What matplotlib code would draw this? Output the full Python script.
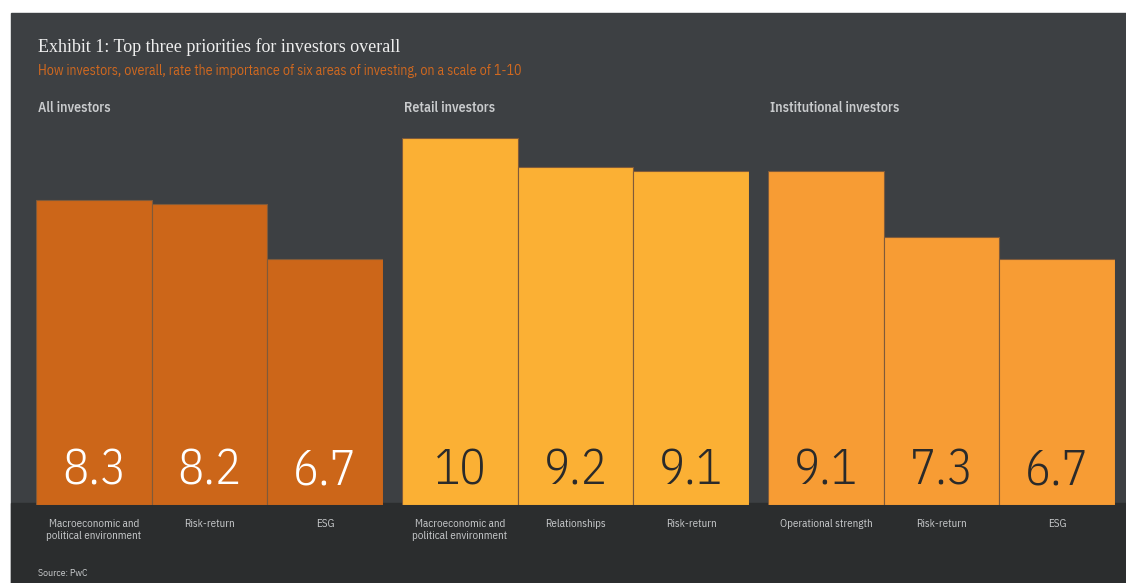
from matplotlib import pyplot as plt
from matplotlib.patches import Rectangle
import numpy as np

# Scores on a 1-10 scale, top three areas per investor group
groups = ["All investors", "Retail investors", "Institutional investors"]
all_labels = ["Macroeconomic and\npolitical environment", "Risk-return", "ESG"]
all_values = [8.3, 8.2, 6.7]
retail_labels = ["Macroeconomic and\npolitical environment", "Relationships", "Risk-return"]
retail_values = [10, 9.2, 9.1]
institutional_labels = ["Operational strength", "Risk-return", "ESG"]
institutional_values = [9.1, 7.3, 6.7]

bar_colors = ["#cc6619", "#fbb034", "#f79c34"]
number_colors = ["#ffffff", "#2a2a2a", "#2a2a2a"]

PANEL = "#3d4043"
STRIP = "#2b2d2e"
LABEL = "#c9cbcd"
CONDENSED = ["IBM Plex Sans Condensed", "Open Sans Condensed", "DejaVu Sans"]

W, H = 1126, 583


def px_box(x0, y0, x1, y1):
    # figure-fraction rectangle from pixel coords measured from the top-left
    return [x0 / W, 1 - y1 / H, (x1 - x0) / W, (y1 - y0) / H]


def group_chart(fig, left, title, labels, values, color, number_color):
    ax = fig.add_axes(px_box(left, 138, left + 347, 505))
    ax.set_facecolor("none")
    x = np.arange(len(values))
    ax.bar(x, values, width=1.0, color=color, edgecolor="#7f5a3a", linewidth=0.8)

    # Score printed near the foot of each bar, thin condensed digits
    for xi, v in zip(x, values):
        ax.text(xi, 0.55, f"{v:g}", ha="center", va="baseline", fontsize=35,
                color=number_color, family=CONDENSED, fontweight=300)

    ax.set_xlim(-0.5, len(values) - 0.5)
    ax.set_ylim(0, 10)
    ax.set_yticks([])
    ax.set_xticks(x)
    ax.set_xticklabels(labels, fontsize=7.9, color=LABEL, family=CONDENSED, linespacing=1.3)
    ax.tick_params(axis="x", length=0, pad=10)
    for spine in ax.spines.values():
        spine.set_visible(False)

    fig.text(left / W + 0.0015, 1 - 108 / H, title, fontsize=10, color=LABEL,
             family=CONDENSED, fontweight="semibold", va="center")


def main():
    fig = plt.figure(figsize=(W / 100, H / 100), dpi=100, facecolor="white")

    # Dark panel with a darker footer strip, kept behind the bar axes
    fig.patches.append(Rectangle((11 / W, 0), 1 - 11 / W, 1 - 13 / H,
                                 transform=fig.transFigure, color=PANEL, zorder=-2))
    fig.patches.append(Rectangle((11 / W, 0), 1 - 11 / W, 1 - 503 / H,
                                 transform=fig.transFigure, color=STRIP, zorder=-1))

    fig.text(38 / W, 1 - 47 / H, "Exhibit 1: Top three priorities for investors overall",
             fontsize=13, color="#eeeeee", family=["Liberation Serif", "DejaVu Serif"], va="center")
    fig.text(38 / W, 1 - 71 / H,
             "How investors, overall, rate the importance of six areas of investing, on a scale of 1-10",
             fontsize=10, color="#d2691f", family=CONDENSED, va="center")

    lefts = [36, 402, 768]
    labels = [all_labels, retail_labels, institutional_labels]
    values = [all_values, retail_values, institutional_values]
    for left, title, lab, val, c, nc in zip(lefts, groups, labels, values, bar_colors, number_colors):
        group_chart(fig, left, title, lab, val, c, nc)

    fig.text(38 / W, 1 - 573 / H, "Source: PwC", fontsize=7, color=LABEL,
             family=CONDENSED, va="center")

    fig.savefig("out.png", dpi=100, facecolor=fig.get_facecolor())


main()
